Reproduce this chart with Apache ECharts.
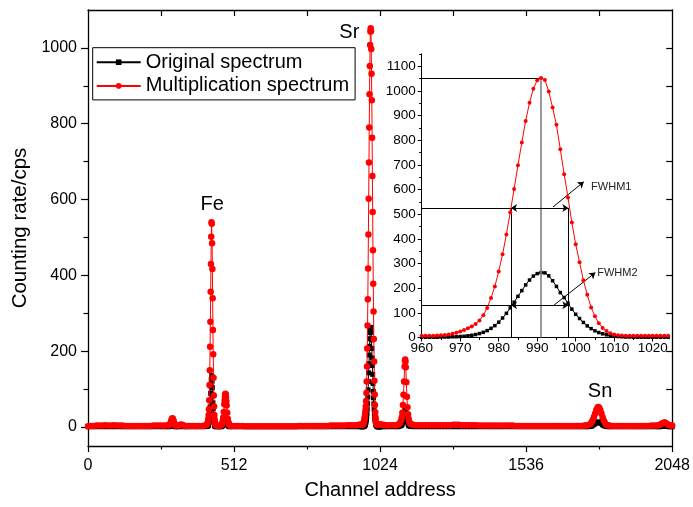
<!DOCTYPE html>
<html><head><meta charset="utf-8">
<script src="https://cdn.jsdelivr.net/npm/echarts@6.0.0/dist/echarts.min.js"></script>
<style>html,body{margin:0;padding:0;background:#fff}#c{width:693px;height:507px}</style>
</head><body><div id="c"></div>
<script>
// ---- data ----
const channels = [
  0,10,20,30,40,50,60,70,80,90,100,110,120,130,140,150,160,170,180,190,200,210,220,230,240,250,260,270,280,
  284,286,288,290,292,294,296,298,300,302,304,306,308,
  315,320,325,330,335,340,350,360,370,380,390,400,410,416,
  418,420,421,422,423,424,425,426,427,428,429,430,431,432,433,434,435,436,437,438,439,440,441,442,443,444,445,446,448,450,
  455,460,465,
  468,470,472,474,476,478,479,480,481,482,483,484,485,486,488,490,492,494,496,500,
  510,520,530,540,550,560,570,580,590,600,610,620,630,640,650,660,670,680,690,700,710,720,730,740,750,760,770,780,790,800,810,820,830,840,850,860,870,880,890,900,910,920,930,940,950,955,
  960,961,962,963,964,965,966,967,968,969,970,971,972,973,974,975,976,977,978,979,980,981,982,983,984,985,986,987,988,989,
  990,991,992,993,994,995,996,997,998,999,1000,1001,1002,1003,1004,1005,1006,1007,1008,1009,1010,1011,1012,1013,1014,1015,1016,1017,1018,1019,
  1020,1021,1022,1023,1024,
  1030,1036,1042,1050,1060,1070,1080,1086,
  1090,1094,1098,1100,1102,1104,1106,1108,1110,1111,1112,1113,1114,1116,1118,1120,1122,1124,1126,1130,1134,
  1140,1150,1160,1170,1180,1190,1200,1210,1220,1230,1240,1250,1260,1270,1280,1290,1300,1310,1320,1330,1340,1350,1360,1370,1380,1390,1400,1410,1420,1430,
  1440,1450,1460,1470,1480,1490,1500,1510,1520,1530,1540,1550,1560,1570,1580,1590,1600,1610,1620,1630,1640,1650,1660,1670,1680,1690,1700,1710,1720,1730,1740,
  1746,1752,1758,1762,1766,1770,1774,1778,1782,1786,1789,1792,1796,1800,1804,1808,1812,1816,1822,1828,
  1835,1845,1855,1865,1875,1885,1895,1905,1915,1925,1935,1945,1955,1965,1975,1985,1995,
  2000,2005,2010,2014,2018,2021,2024,2028,2032,2036,2040,2044,2048
];
const original = [
  1,1,1,1,1,1,1,1,1,1,1,1,1,1,1,1,1,1,1,1,1,1,1,1,1,1,1,1,1,
  1,2,2,3,4,5,6,5,4,3,2,1,1,
  1,1,2,2,1,1,1,1,1,1,1,1,1,2,
  2,3,4,5,8,12,18,28,38,53,70,89,108,125,136,134,121,104,85,64,48,33,21,14,8,5,3,2,1,1,
  1,1,1,
  1,2,4,6,10,15,17,20,21,22,21,19,17,14,9,5,3,2,1,1,
  1,1,1,1,1,1,1,1,1,1,1,1,1,1,1,1,1,1,1,1,1,1,1,1,1,1,1,1,1,1,1,1,1,1,1,1,1,1,1,1,1,1,1,1,1,1,
  1,1,1,1,1,2,2,2,3,3,4,5,7,9,12,16,21,28,37,48,62,79,98,120,143,167,190,213,233,249,
  259,263,262,250,230,207,182,162,139,115,94,77,61,47,36,27,20,15,11,7,5,4,3,2,2,1,1,1,1,1,
  1,1,1,1,1,
  1,1,1,1,1,1,1,1,
  2,3,4,6,9,14,21,30,40,44,45,43,39,29,20,13,8,5,3,2,2,
  1,1,1,1,1,1,1,1,1,1,1,1,1,1,1,1,1,1,1,1,1,1,1,1,1,1,1,1,1,1,
  1,1,1,1,1,1,1,1,1,1,1,1,1,1,1,1,1,1,1,1,1,1,1,1,1,1,1,1,1,1,1,
  1,1,2,2,3,5,7,9,11,13,13,13,11,9,6,4,3,2,1,1,
  1,1,1,1,1,1,1,1,1,1,1,1,1,1,1,1,1,
  1,1,2,2,3,3,3,2,2,1,1,1,1
];
const multiplied = [
  2,3,3,4,4,4,5,4,4,5,4,4,4,3,3,3,3,3,3,3,3,3,3,4,4,4,4,4,5,
  5,6,8,12,17,21,23,21,16,11,7,5,4,
  4,5,7,6,4,3,3,3,3,3,3,3,4,6,
  8,12,16,22,32,47,71,111,150,212,278,357,430,502,540,536,485,417,340,256,192,130,83,54,32,20,13,9,6,4,
  3,3,4,
  6,9,15,25,40,60,70,80,86,88,85,78,68,57,38,22,13,8,5,3,
  3,3,3,3,2,2,2,2,2,2,2,2,2,2,2,2,2,2,2,2,2,2,2,3,3,3,3,3,3,3,3,3,3,3,4,4,4,4,4,4,5,5,5,5,6,6,
  7,7,7,7,8,9,10,12,15,19,24,30,37,45,55,69,90,120,160,207,268,337,418,508,602,698,790,878,952,1008,
  1043,1052,1044,997,932,862,763,662,567,466,378,305,232,173,122,86,58,39,26,17,12,9,8,7,7,7,7,7,7,7,
  7,7,7,7,7,
  6,6,5,5,5,5,5,6,
  8,11,18,26,38,58,85,120,160,175,178,172,158,118,80,52,34,22,14,9,7,
  6,5,5,5,5,5,5,5,5,5,5,5,5,5,6,6,6,5,5,5,5,5,5,4,4,4,4,4,4,4,
  4,4,4,4,4,4,3,3,3,3,3,3,3,3,3,3,3,3,3,3,3,3,3,3,3,3,3,3,3,3,4,
  4,5,7,9,13,19,27,36,45,51,53,51,45,36,26,17,11,7,5,4,
  3,3,3,3,3,3,3,3,3,3,3,3,3,3,4,4,4,
  5,6,8,10,11,12,11,9,7,6,5,4,4
];
const seriesNames = ['Original spectrum', 'Multiplication spectrum'];
const xTicks = [0, 512, 1024, 1536, 2048];
const xMinorTicks = [256, 768, 1280, 1792];
const xTopTicks = [256, 512, 768, 1024, 1280, 1536, 1792];
const yTicks = [0, 200, 400, 600, 800, 1000];
const yMinorTicks = [100, 300, 500, 700, 900];
const yRightTicks = [0, 100, 200, 300, 400, 500, 600, 700, 800, 900, 1000];
const insetRange = [960, 1024];
const insetXTicks = [960, 970, 980, 990, 1000, 1010, 1020];
const insetXMinorTicks = [965, 975, 985, 995, 1005, 1015];
const insetYTicks = [0, 100, 200, 300, 400, 500, 600, 700, 800, 900, 1000, 1100];
const insetYMinorTicks = [50, 150, 250, 350, 450, 550, 650, 750, 850, 950, 1050, 1150];
const peakNames = ['Fe', 'Sr', 'Sn'];
const peakNameChannels = [435, 916, 1795];
const peakNameLevels = [588, 1042, 93];
// FWHM construction in the inset
const peakChannel = 991, peakLevel = 1052;
const fwhmLeft = 983.2, fwhmRight = 998.1;
const half1 = 525, half2 = 131;
const fwhmArrowFrom = [[994.1, 529], [994.1, 128]];
const fwhmArrowTo = [[1002.1, 631], [1005.1, 263]];
const fwhmTextAt = [[1004.0, 612], [1005.6, 261]];
const fwhmTexts = ['FWHM1', 'FWHM2'];

// ---- chart ----
const FONT = "'Liberation Sans', Arial, sans-serif";
const plainNum = v => String(v);
const mainOrig = channels.map((c, i) => [c, original[i]]);
const mainMult = channels.map((c, i) => [c, multiplied[i]]);
const inInset = d => d[0] >= insetRange[0] && d[0] <= insetRange[1];
const insetOrig = mainOrig.filter(inInset);
const insetMult = mainMult.filter(inInset);

const lineCol = {color: '#000', width: 1.3};
const tickCol = {color: '#000', width: 1.2};
const noLabel = {show: false};
const noSplit = {show: false};

const xAxis = [
  {gridIndex: 0, type: 'value', position: 'bottom', min: 0, max: 2048,
   axisLine: {onZero: false, lineStyle: lineCol},
   axisTick: {customValues: xTicks, length: 6, lineStyle: tickCol},
   axisLabel: {customValues: xTicks, formatter: plainNum, fontSize: 16, color: '#000', margin: 12, fontFamily: FONT},
   splitLine: noSplit,
   name: 'Channel address', nameLocation: 'middle', nameGap: 34,
   nameTextStyle: {fontSize: 20, color: '#000', fontFamily: FONT}},
  {gridIndex: 0, type: 'value', position: 'bottom', min: 0, max: 2048,
   axisLine: {show: false, onZero: false},
   axisTick: {customValues: xMinorTicks, length: 3.5, lineStyle: tickCol},
   axisLabel: noLabel, splitLine: noSplit},
  {gridIndex: 0, type: 'value', position: 'top', min: 0, max: 2048,
   axisLine: {onZero: false, lineStyle: lineCol},
   axisTick: {customValues: xTopTicks, inside: true, length: 6, lineStyle: tickCol},
   axisLabel: noLabel, splitLine: noSplit},
  {gridIndex: 1, type: 'value', position: 'bottom', min: insetRange[0], max: insetRange[1],
   axisLine: {onZero: false, lineStyle: {color: '#000', width: 1}},
   axisTick: {customValues: insetXTicks, length: 4, lineStyle: {color: '#000', width: 1}},
   axisLabel: {customValues: insetXTicks, formatter: plainNum, fontSize: 13.5, color: '#000', margin: 4, fontFamily: FONT},
   splitLine: noSplit},
  {gridIndex: 1, type: 'value', position: 'bottom', min: insetRange[0], max: insetRange[1],
   axisLine: {show: false, onZero: false},
   axisTick: {customValues: insetXMinorTicks, length: 2.5, lineStyle: {color: '#000', width: 1}},
   axisLabel: noLabel, splitLine: noSplit}
];
const yAxis = [
  {gridIndex: 0, type: 'value', position: 'left', min: -50, max: 1100,
   axisLine: {show: true, onZero: false, lineStyle: lineCol},
   axisTick: {show: true, customValues: yTicks, length: 7, lineStyle: tickCol},
   axisLabel: {customValues: yTicks, formatter: plainNum, fontSize: 16, color: '#000', margin: 11, fontFamily: FONT},
   splitLine: noSplit,
   name: 'Counting rate/cps', nameLocation: 'middle', nameGap: 47, nameRotate: 90,
   nameTextStyle: {fontSize: 20.5, color: '#000', fontFamily: FONT}},
  {gridIndex: 0, type: 'value', position: 'left', min: -50, max: 1100,
   axisLine: {show: false, onZero: false},
   axisTick: {show: true, customValues: yMinorTicks, length: 4.5, lineStyle: tickCol},
   axisLabel: noLabel, splitLine: noSplit},
  {gridIndex: 0, type: 'value', position: 'right', min: -50, max: 1100,
   axisLine: {show: true, onZero: false, lineStyle: lineCol},
   axisTick: {show: true, customValues: yRightTicks, inside: true, length: 6, lineStyle: tickCol},
   axisLabel: noLabel, splitLine: noSplit},
  {gridIndex: 1, type: 'value', position: 'left', min: 0, max: 1150,
   axisLine: {show: true, onZero: false, lineStyle: {color: '#000', width: 1}},
   axisTick: {show: true, customValues: insetYTicks, length: 4, lineStyle: {color: '#000', width: 1}},
   axisLabel: {customValues: insetYTicks, formatter: plainNum, fontSize: 13.5, color: '#000', margin: 6, fontFamily: FONT},
   splitLine: noSplit},
  {gridIndex: 1, type: 'value', position: 'left', min: 0, max: 1150,
   axisLine: {show: false, onZero: false},
   axisTick: {show: true, customValues: insetYMinorTicks, length: 2.5, lineStyle: {color: '#000', width: 1}},
   axisLabel: noLabel, splitLine: noSplit}
];

const arrowEnd = (from, to) => [
  {coord: from, symbol: 'none'},
  {coord: to, symbol: 'arrow', symbolSize: 6}
];
const dblArrow = (y) => [
  {coord: [fwhmLeft, y], symbol: 'arrow', symbolSize: 6},
  {coord: [fwhmRight, y], symbol: 'arrow', symbolSize: 6}
];
const plain = (a, b, extra) => [Object.assign({coord: a, symbol: 'none'}, extra || {}), {coord: b, symbol: 'none'}];

const option = {
  animation: false,
  backgroundColor: '#fff',
  textStyle: {fontFamily: FONT},
  grid: [
    {left: 88, top: 10, width: 587, height: 436},
    {left: 421.7, top: 53.8, width: 246.4, height: 283.7}
  ],
  legend: {
    left: 92.7, top: 47.7, orient: 'vertical', data: seriesNames,
    borderColor: '#000', borderWidth: 1, backgroundColor: '#fff',
    padding: [4.5, 6, 4, 3], itemGap: 3.7, itemWidth: 44, itemHeight: 7,
    textStyle: {fontSize: 20, color: '#000', fontFamily: FONT},
    selectedMode: false
  },
  xAxis: xAxis,
  yAxis: yAxis,
  series: [
    {name: seriesNames[0], type: 'line', xAxisIndex: 0, yAxisIndex: 0, data: mainOrig,
     symbol: 'rect', symbolSize: 5, itemStyle: {color: '#000'}, lineStyle: {color: '#000', width: 1},
     z: 2},
    {name: seriesNames[1], type: 'line', xAxisIndex: 0, yAxisIndex: 0, data: mainMult,
     symbol: 'circle', symbolSize: 6.5, itemStyle: {color: '#ff0000'}, lineStyle: {color: '#ff0000', width: 1},
     z: 3,
     markPoint: {
       silent: true, symbol: 'circle', symbolSize: 0,
       label: {show: true, position: 'inside', formatter: '{b}', fontSize: 20, color: '#000', fontFamily: FONT},
       data: peakNames.map((n, i) => ({name: n, coord: [peakNameChannels[i], peakNameLevels[i]]}))
     }},
    {name: seriesNames[0], type: 'line', xAxisIndex: 3, yAxisIndex: 3, data: insetOrig,
     symbol: 'rect', symbolSize: 3.5, itemStyle: {color: '#000'}, lineStyle: {color: '#000', width: 1},
     z: 4},
    {name: seriesNames[1], type: 'line', xAxisIndex: 3, yAxisIndex: 3, data: insetMult,
     symbol: 'circle', symbolSize: 4, itemStyle: {color: '#ff0000'}, lineStyle: {color: '#ff0000', width: 1},
     z: 5,
     markLine: {
       silent: true, animation: false, symbol: ['none', 'none'],
       label: {show: false},
       lineStyle: {color: '#000', width: 1, type: 'solid'},
       emphasis: {disabled: true},
       data: [
         plain([insetRange[0], peakLevel], [peakChannel, peakLevel]),
         plain([peakChannel, 0], [peakChannel, peakLevel], {lineStyle: {color: '#808080', width: 1.6, type: 'solid'}}),
         plain([insetRange[0], half1], [fwhmLeft, half1]),
         plain([insetRange[0], half2], [fwhmLeft, half2]),
         plain([fwhmLeft, 0], [fwhmLeft, half1]),
         plain([fwhmRight, 0], [fwhmRight, half1]),
         dblArrow(half1),
         dblArrow(half2),
         arrowEnd(fwhmArrowFrom[0], fwhmArrowTo[0]),
         arrowEnd(fwhmArrowFrom[1], fwhmArrowTo[1])
       ]
     },
     markPoint: {
       silent: true, symbol: 'circle', symbolSize: 0,
       label: {show: true, position: 'right', distance: 0, formatter: '{b}', fontSize: 11, color: '#222', fontFamily: FONT},
       data: fwhmTexts.map((t, i) => ({name: t, coord: fwhmTextAt[i]}))
     }}
  ]
};
const chart = echarts.init(document.getElementById('c'), null, {renderer: 'canvas'});
chart.setOption(option);
</script>
</body></html>
